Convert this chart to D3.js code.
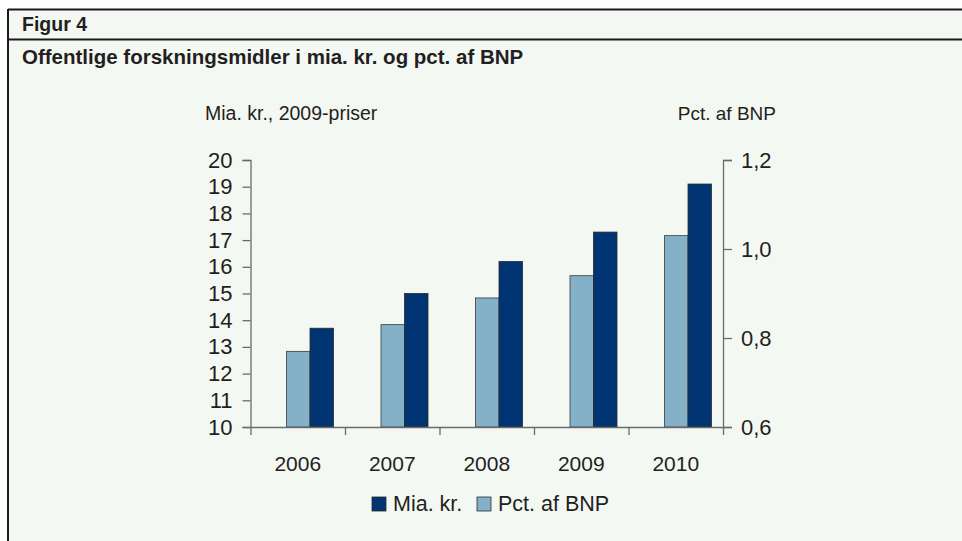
<!DOCTYPE html>
<html>
<head>
<meta charset="utf-8">
<script src="https://cdn.jsdelivr.net/npm/d3@7"></script>
<style>
  html, body { margin: 0; padding: 0; background: #ffffff; }
  svg text { font-family: "Liberation Sans", Arial, sans-serif; fill: #231f20; }
</style>
</head>
<body>
<svg id="chart" width="962" height="541"></svg>
<script>
// Data
const years = ['2006', '2007', '2008', '2009', '2010'];
const miaKr = [13.7, 15.0, 16.2, 17.3, 19.1];      // left axis, Mia. kr., 2009-priser
const pctBNP = [0.77, 0.83, 0.89, 0.94, 1.03];     // right axis, Pct. af BNP
const leftTicks = [10, 11, 12, 13, 14, 15, 16, 17, 18, 19, 20];
const rightTicks = [0.6, 0.8, 1.0, 1.2];

const svg = d3.select('#chart');

// Panel background and frame
svg.append('rect')
   .attr('x', 8).attr('y', 9)
   .attr('width', 954).attr('height', 532)
   .attr('fill', '#f4f8f3');
svg.append('line')
   .attr('x1', 8).attr('x2', 962).attr('y1', 9.5).attr('y2', 9.5)
   .attr('stroke', '#1a1a1a').attr('stroke-width', 2);
svg.append('line')
   .attr('x1', 8).attr('x2', 962).attr('y1', 39.5).attr('y2', 39.5)
   .attr('stroke', '#1a1a1a').attr('stroke-width', 2);
svg.append('line')
   .attr('x1', 8).attr('x2', 8).attr('y1', 9).attr('y2', 541)
   .attr('stroke', '#1a1a1a').attr('stroke-width', 2);

// Header
svg.append('text')
   .attr('x', 22).attr('y', 31)
   .style('font-size', '19.5px').style('font-weight', 'bold')
   .text('Figur 4');
svg.append('text')
   .attr('x', 22).attr('y', 64)
   .style('font-size', '20.5px').style('font-weight', 'bold')
   .text('Offentlige forskningsmidler i mia. kr. og pct. af BNP');

// Plot geometry
const plot = {left: 250.5, right: 723, top: 160, bottom: 427};

// Scales
const x0 = d3.scaleBand().domain(years).range([plot.left, plot.right]).padding(0);
const x1 = d3.scaleBand().domain(['pct', 'mia']).range([36, 83]).padding(0);
const xEdge = d3.scaleLinear().domain([0, years.length]).range([plot.left, plot.right]);
const yL = d3.scaleLinear().domain([10, 20]).range([plot.bottom, plot.top]);
const yR = d3.scaleLinear().domain([0.6, 1.2]).range([plot.bottom, plot.top]);

// Axis titles
svg.append('text')
   .attr('x', 205).attr('y', 120)
   .style('font-size', '19.5px')
   .text('Mia. kr., 2009-priser');
svg.append('text')
   .attr('x', 776).attr('y', 120)
   .attr('text-anchor', 'end')
   .style('font-size', '19px')
   .text('Pct. af BNP');

// Bars
const rows = years.map((y, i) => ({year: y, mia: miaKr[i], pct: pctBNP[i]}));

svg.append('g')
   .selectAll('rect')
   .data(rows)
   .join('rect')
   .attr('x', d => x0(d.year) + x1('pct'))
   .attr('y', d => yR(d.pct))
   .attr('width', x1.bandwidth())
   .attr('height', d => plot.bottom - yR(d.pct))
   .attr('fill', '#84b1c8')
   .attr('stroke', '#3a3a3a')
   .attr('stroke-width', 0.8);

svg.append('g')
   .selectAll('rect')
   .data(rows)
   .join('rect')
   .attr('x', d => x0(d.year) + x1('mia'))
   .attr('y', d => yL(d.mia))
   .attr('width', x1.bandwidth())
   .attr('height', d => plot.bottom - yL(d.mia))
   .attr('fill', '#003473')
   .attr('stroke', '#2a2a2a')
   .attr('stroke-width', 0.8);

// Left axis
const gL = svg.append('g')
   .attr('transform', `translate(${plot.left}, 0)`)
   .call(d3.axisLeft(yL).tickValues(leftTicks).tickSize(8).tickSizeOuter(8).tickPadding(10));

// Right axis
const gR = svg.append('g')
   .attr('transform', `translate(${plot.right}, 0)`)
   .call(d3.axisRight(yR).tickValues(rightTicks).tickSize(9).tickSizeOuter(9).tickPadding(9)
         .tickFormat(d => d3.format('.1f')(d).replace('.', ',')));

// Category axis
const gX = svg.append('g')
   .attr('transform', `translate(0, ${plot.bottom})`)
   .call(d3.axisBottom(xEdge).tickValues(d3.range(years.length + 1)).tickFormat('').tickSize(8).tickSizeOuter(0));

[gL, gR, gX].forEach(g => {
    g.select('.domain').attr('stroke', '#6b6b6b').attr('stroke-width', 1.3);
    g.selectAll('.tick line').attr('stroke', '#6b6b6b').attr('stroke-width', 1.3);
    g.selectAll('.tick text').style('font-size', '22px').attr('fill', '#231f20')
     .style('font-family', '"Liberation Sans", Arial, sans-serif');
});

// Year labels
svg.append('g')
   .selectAll('text')
   .data(years)
   .join('text')
   .attr('x', d => x0(d) + x0.bandwidth() / 2)
   .attr('y', 471)
   .attr('text-anchor', 'middle')
   .style('font-size', '21px')
   .text(d => d);

// Legend
const legend = [
    {label: 'Mia. kr.', color: '#003473', x: 372},
    {label: 'Pct. af BNP', color: '#84b1c8', x: 477}
];
const lg = svg.append('g').selectAll('g').data(legend).join('g')
    .attr('transform', d => `translate(${d.x}, 497)`);
lg.append('rect')
  .attr('width', 14).attr('height', 14)
  .attr('fill', d => d.color)
  .attr('stroke', '#2a2a2a').attr('stroke-width', 0.8);
lg.append('text')
  .attr('x', 21).attr('y', 14)
  .style('font-size', '21.5px')
  .text(d => d.label);
</script>
</body>
</html>
